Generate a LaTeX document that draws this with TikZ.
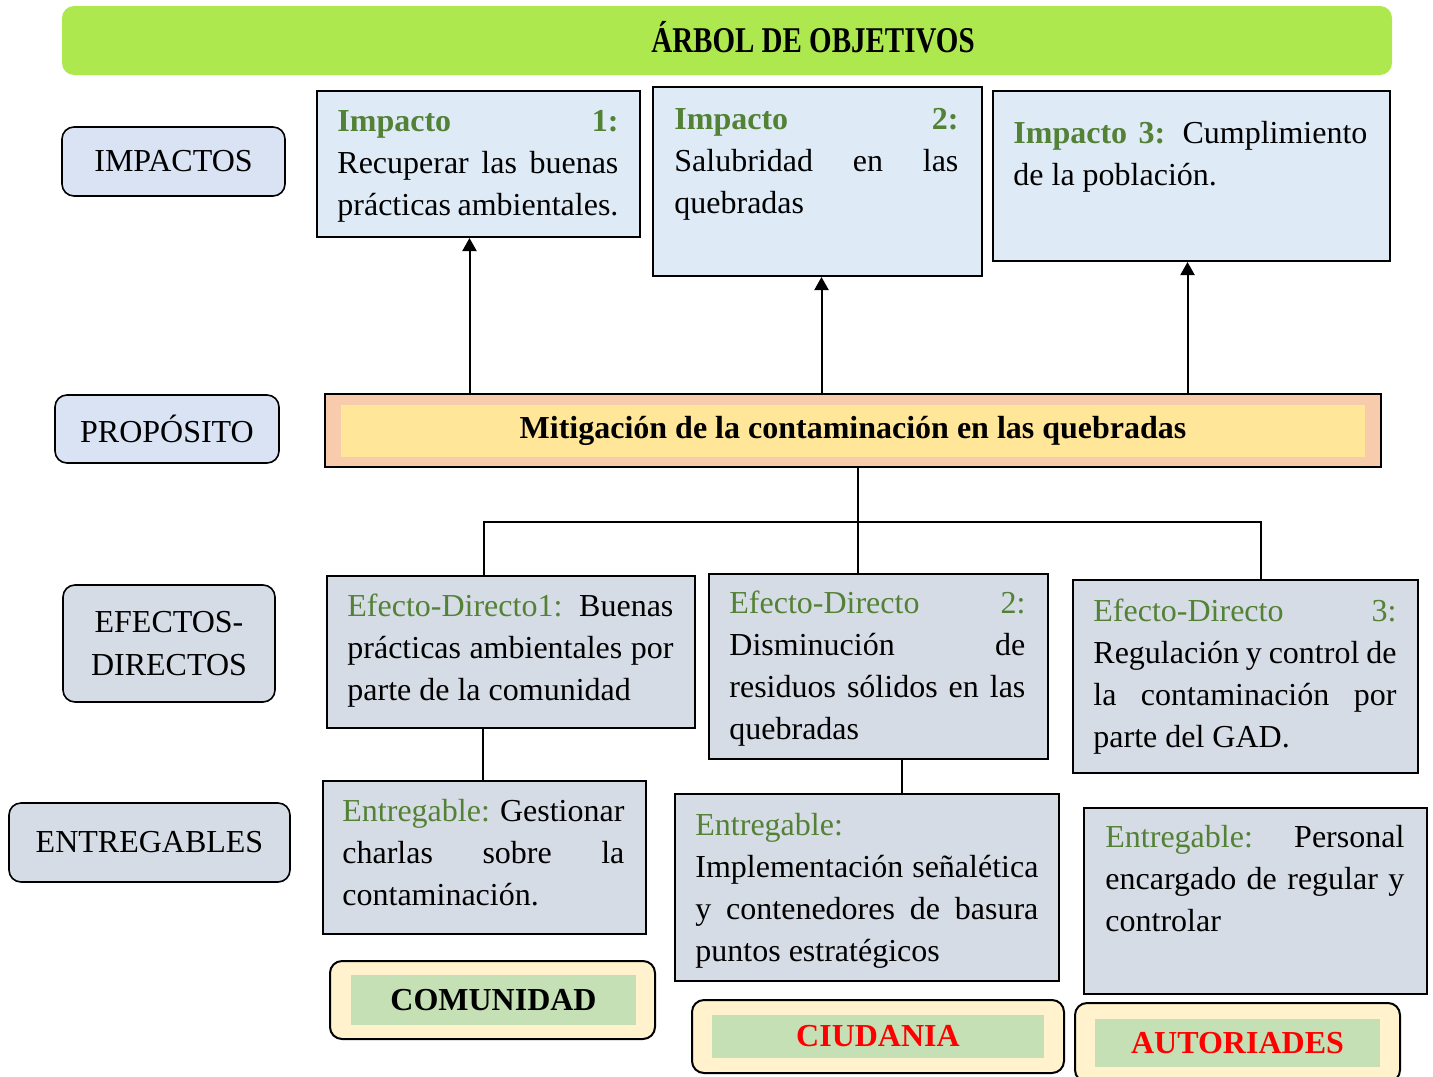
\documentclass[tikz,border=0pt]{standalone}
\usepackage{fontspec}
\usepackage{graphicx}
\setmainfont{Liberation Serif}
\usetikzlibrary{arrows.meta}
\definecolor{verdetitulo}{RGB}{174,232,79}
\definecolor{azulnivel}{RGB}{218,227,243}
\definecolor{grisnivel}{RGB}{214,220,229}
\definecolor{azulimpacto}{RGB}{222,235,247}
\definecolor{durazno}{RGB}{248,203,173}
\definecolor{amarillo}{RGB}{255,230,153}
\definecolor{crema}{RGB}{255,242,204}
\definecolor{verdeclaro}{RGB}{197,224,180}
\definecolor{verdetexto}{RGB}{83,129,53}
\newcommand{\cuerpo}{\fontsize{16}{21}\selectfont}
\newcommand{\etiq}[1]{\textcolor{verdetexto}{#1}}
\hyphenpenalty=10000
\exhyphenpenalty=10000
\tolerance=10000
\hbadness=10000
\tikzset{x=0.5pt, y=-0.5pt, % One unit is one pixel of the reference
nivel/.style={ % Sets the properties for the labels on the left
draw, line width=0.8pt,
rounded corners=6pt,
inner sep=0pt, align=center,
font=\cuerpo},
caja/.style={ % Sets the properties for each box
draw, line width=1pt,
anchor=north west, inner sep=0pt},
texto/.style={ % Text inside the boxes, justified
anchor=base west, inner sep=0pt,
align=justify, font=\cuerpo},
actor/.style={ % Rounded boxes at the bottom
draw, line width=1pt, fill=crema,
rounded corners=6pt, inner sep=0pt},
flecha/.style={ % Arrows towards the impacts
draw,-{Triangle[length=6.5pt,width=7pt]}, line width=1pt},
linea/.style={draw, line width=1pt}}

\begin{document}
\begin{tikzpicture}
    \useasboundingbox (0,0) rectangle (1433,1076);
    
    % title
    \node[fill=verdetitulo, rounded corners=6pt, minimum width=665pt, minimum height=34.5pt] (titulo) at (727,40.5) {};
    \node[anchor=base, inner sep=0pt, font=\fontsize{14.5}{16}\selectfont\bfseries] (titulotexto) at (813,52) {\scalebox{1}[1.25]{ÁRBOL DE OBJETIVOS}};
    
    % levels
    \node[nivel, fill=azulnivel, minimum width=111.5pt, minimum height=34.5pt] (nimpactos) at (173.5,161.5) {IMPACTOS};
    \node[nivel, fill=azulnivel, minimum width=112pt, minimum height=34pt] (nproposito) at (167,429) {PROPÓSITO};
    \node[nivel, fill=grisnivel, minimum width=106pt, minimum height=58.5pt, font=\fontsize{16}{21.5}\selectfont] (nefectos) at (169,643.5) {EFECTOS-\\DIRECTOS};
    \node[nivel, fill=grisnivel, minimum width=140.5pt, minimum height=39.5pt] (nentregables) at (149.5,842.5) {ENTREGABLES};
    
    % impacts
    \node[caja, fill=azulimpacto, minimum width=161.5pt, minimum height=73pt] (imp1) at (316,90) {};
    \node[caja, fill=azulimpacto, minimum width=164.5pt, minimum height=94.5pt] (imp2) at (652,86) {};
    \node[caja, fill=azulimpacto, minimum width=198.5pt, minimum height=85pt] (imp3) at (992,90) {};
    \node[texto, text width=140.5pt] (imp1t) at (337,131) {\textbf{\etiq{Impacto 1:}}\linebreak Recuperar las buenas\linebreak prácticas ambientales.};
    \node[texto, text width=142pt] (imp2t) at (674,129) {\textbf{\etiq{Impacto 2:}}\linebreak Salubridad en las\linebreak quebradas};
    \node[texto, text width=177pt] (imp3t) at (1013,143) {\textbf{\etiq{Impacto 3:}} Cumplimiento\linebreak de la población.};
    
    % purpose
    \node[draw, line width=1pt, fill=durazno, minimum width=528pt, minimum height=36.5pt] (proposito) at (853,430.5) {};
    \node[fill=amarillo, minimum width=512pt, minimum height=26pt, font=\cuerpo\bfseries] (propositotexto) at (853,431) {Mitigación de la contaminación en las quebradas};
    
    % direct effects
    \node[caja, fill=grisnivel, minimum width=184pt, minimum height=76pt] (ef1) at (326,575) {};
    \node[caja, fill=grisnivel, minimum width=169.5pt, minimum height=92.5pt] (ef2) at (708,573) {};
    \node[caja, fill=grisnivel, minimum width=172.5pt, minimum height=96.5pt] (ef3) at (1072,579) {};
    \node[texto, text width=163pt] (ef1t) at (347,616) {\etiq{Efecto-Directo1:} Buenas\linebreak prácticas ambientales por\linebreak parte de la comunidad};
    \node[texto, text width=148pt] (ef2t) at (729,613) {\etiq{Efecto-Directo 2:}\linebreak Disminución de\linebreak residuos sólidos en las\linebreak quebradas};
    \node[texto, text width=151.5pt] (ef3t) at (1093,621) {\etiq{Efecto-Directo 3:}\linebreak Regulación y control de\linebreak la contaminación por\linebreak parte del GAD.};
    
    % deliverables
    \node[caja, fill=grisnivel, minimum width=161.5pt, minimum height=76.5pt] (ent1) at (322,780) {};
    \node[caja, fill=grisnivel, minimum width=192pt, minimum height=93.5pt] (ent2) at (674,793) {};
    \node[caja, fill=grisnivel, minimum width=171.5pt, minimum height=93pt] (ent3) at (1083,807) {};
    \node[texto, text width=141pt] (ent1t) at (342,821) {\etiq{Entregable:} Gestionar\linebreak charlas sobre la\linebreak contaminación.};
    \node[texto, text width=171.5pt] (ent2t) at (695,835) {\etiq{Entregable:}\hfill\break Implementación señalética\linebreak y contenedores de basura\linebreak puntos estratégicos};
    \node[texto, text width=149.5pt] (ent3t) at (1105,847) {\etiq{Entregable:} Personal\linebreak encargado de regular y\linebreak controlar};
    
    % actors
    \node[actor, minimum width=162.5pt, minimum height=39pt] (comunidad) at (492.5,1000) {};
    \node[fill=verdeclaro, minimum width=142.5pt, minimum height=25pt, font=\cuerpo\bfseries] (comunidadtexto) at (493.5,1000) {COMUNIDAD};
    \node[actor, minimum width=186pt, minimum height=36.5pt] (ciudadania) at (878,1036.5) {};
    \node[fill=verdeclaro, minimum width=166pt, minimum height=21.5pt, font=\cuerpo\bfseries, text=red] (ciudadaniatexto) at (878,1036.5) {CIUDANIA};
    \node[actor, minimum width=162.5pt, minimum height=39.5pt] (autoridades) at (1237.5,1042.5) {};
    \node[fill=verdeclaro, minimum width=142.5pt, minimum height=24pt, font=\cuerpo\bfseries, text=red] (autoridadestexto) at (1237.5,1043) {AUTORIADES};
    
    % connectors
    \draw[flecha] ([xshift=-4.5pt]imp1.south |- proposito.north) -- ([xshift=-4.5pt]imp1.south);
    \draw[flecha] ([xshift=2pt]imp2.south |- proposito.north) -- ([xshift=2pt]imp2.south);
    \draw[flecha] ([xshift=-2pt]imp3.south |- proposito.north) -- ([xshift=-2pt]imp3.south);
    
    \coordinate (rama) at (858,522);
    \coordinate (ramaizq) at (484,522);
    \coordinate (ramader) at (1261,522);
    \draw[linea] (proposito.south -| rama) -- (ef2.north -| rama);
    \draw[linea] (ef1.north -| ramaizq) -- (ramaizq) -- (ramader) -- (ef3.north -| ramader);
    
    \draw[linea] ([xshift=-14pt]ef1.south) -- ([xshift=-14pt]ef1.south |- ent1.north);
    \draw[linea] ([xshift=11.5pt]ef2.south) -- ([xshift=11.5pt]ef2.south |- ent2.north);
    
\end{tikzpicture}
\end{document}
